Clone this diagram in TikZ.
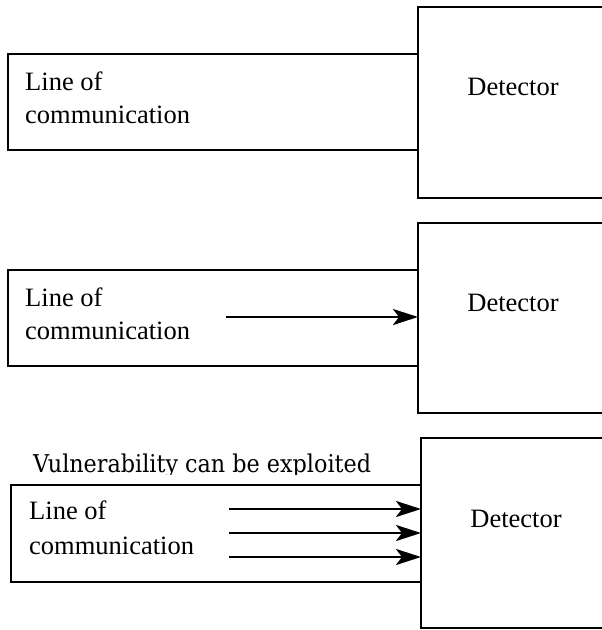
\documentclass[tikz,border=0pt]{standalone}
\usepackage{fontspec}
\setmainfont{Liberation Serif}
\newfontfamily\notefont[FakeStretch=0.91]{DejaVu Serif}
\usetikzlibrary{arrows.meta}

\tikzset{
  box/.style={draw=black, line width=2.6pt, inner sep=0pt, outer sep=0pt,
              anchor=north west, rectangle},
  lbl/.style={inner sep=0pt, font=\fontsize{26.5}{33}\selectfont},
  note/.style={inner sep=0pt, font=\notefont\fontsize{24.5}{28}\selectfont},
  signal/.style={line width=2.4pt, -{Stealth[length=25pt,width=16pt,inset=6pt]}}
}

\begin{document}
\begin{tikzpicture}[x=1pt, y=-1pt]
\useasboundingbox (0,0) rectangle (602,630);
\clip (0,0) rectangle (602,630);

% --- first stage: line of communication next to the detector
\node[box, minimum width=410pt, minimum height=96pt] (line1) at (8,54) {};
\node[box, minimum width=220pt, minimum height=191pt] (det1) at (418,7) {};
\node[lbl, anchor=base west] (line1a) at (25,90) {Line of};
\node[lbl, anchor=base west] (line1b) at (25,123) {communication};
\node[lbl] (det1t) at (513,87) {Detector};

% --- second stage: one signal reaches the detector
\node[box, minimum width=410pt, minimum height=96pt] (line2) at (8,270) {};
\node[box, minimum width=220pt, minimum height=190pt] (det2) at (418,223) {};
\node[lbl, anchor=base west] (line2a) at (25,306) {Line of};
\node[lbl, anchor=base west] (line2b) at (25,339) {communication};
\node[lbl] (det2t) at (513,303) {Detector};
\coordinate (s2) at (226,317);
\draw[signal] (s2) -- (det2.west |- s2);

% --- third stage: several signals, vulnerability exploited
\node[box, minimum width=410pt, minimum height=97pt] (line3) at (11,485) {};
\node[box, minimum width=220pt, minimum height=190pt] (det3) at (421,438) {};
\node[lbl, anchor=base west] (line3a) at (29,519) {Line of};
\node[lbl, anchor=base west] (line3b) at (29,554) {communication};
\node[lbl] (det3t) at (516,519) {Detector};
\coordinate (s3a) at (229,509);
\coordinate (s3b) at (229,533);
\coordinate (s3c) at (229,557);
\draw[signal] (s3a) -- (det3.west |- s3a);
\draw[signal] (s3b) -- (det3.west |- s3b);
\draw[signal] (s3c) -- (det3.west |- s3c);

\begin{scope}
  \clip (0,0) rectangle (602,474);
  \node[note, anchor=base west] (vuln) at (33,472) {Vulnerability can be exploited};
\end{scope}
\end{tikzpicture}
\end{document}
